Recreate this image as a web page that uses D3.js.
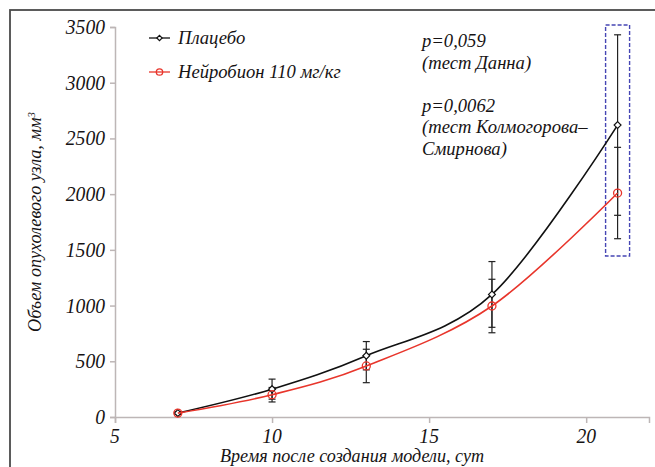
<!DOCTYPE html>
<html lang="ru">
<head>
<meta charset="utf-8">
<title>Объем опухолевого узла</title>
<script src="https://d3js.org/d3.v7.min.js"></script>
<style>
  body { margin: 0; background: #fff; }
  text { font-family: "Liberation Serif", serif; font-style: italic; fill: #161314; }
</style>
</head>
<body>
<script>
// data
var days = [7, 10, 13, 17, 21];
var placebo = [35, 250, 550, 1100, 2620];
var placeboErr = [10, 90, 127, 295, 810];
var neuro = [35, 200, 458, 996, 2010];
var neuroErr = [10, 65, 150, 240, 410];
var xTicks = [5, 10, 15, 20];
var yTicks = [0, 500, 1000, 1500, 2000, 2500, 3000, 3500];
var legendLabels = ["Плацебо", "Нейробион 110 мг/кг"];
var noteLines = ["p=0,059", "(тест Данна)", "", "p=0,0062", "(тест Колмогорова–", "Смирнова)"];

var w = 655, h = 467;
var sx = 0.98;

var x = d3.scaleLinear().domain([5, 22]).range([115, 649]);
var y = d3.scaleLinear().domain([0, 3500]).range([417, 27]);

var svg = d3.select("body").append("svg")
  .attr("width", w).attr("height", h);

// outer frame (runs off the page on right and bottom)
svg.append("rect")
  .attr("x", 10).attr("y", 10).attr("width", 720).attr("height", 520)
  .attr("fill", "none").attr("stroke", "#4a4a4a").attr("stroke-width", 1.8);

function label(g, tx, ty, str, anchor, rot, size) {
  return g.append("text")
    .attr("transform", "translate(" + tx + "," + ty + ")" + (rot ? " rotate(" + rot + ")" : "") + " scale(" + sx + ",1)")
    .attr("text-anchor", anchor || "start")
    .style("font-size", (size || 19) + "px")
    .text(str);
}

// axes
var axisColor = "#bdb6b6";
var xAxis = svg.append("g").attr("transform", "translate(0," + y(0) + ")")
  .call(d3.axisBottom(x).tickValues(xTicks).tickSize(6).tickFormat(""));
var yAxis = svg.append("g").attr("transform", "translate(" + x(5) + ",0)")
  .call(d3.axisLeft(y).tickValues(yTicks).tickSize(5).tickFormat(""));
[xAxis, yAxis].forEach(function(a) {
  a.selectAll("path, line").attr("stroke", axisColor).attr("stroke-width", 1.5);
});

xTicks.forEach(function(t) { label(svg, x(t), 443, t, "middle", 0, 20); });
yTicks.forEach(function(t) { label(svg, 105, y(t) + 7, t, "end", 0, 20); });

label(svg, 352, 462, "Время после создания модели, сут", "middle", 0, 18.5);
var yl = label(svg, 41, 222, "", "middle", -90, 18.5);
yl.append("tspan").text("Объем опухолевого узла, мм");
yl.append("tspan").attr("dy", -6).style("font-size", "11px").text("3");

// highlight box around last time point
svg.append("rect")
  .attr("x", x(21) - 12).attr("y", y(3518))
  .attr("width", 24).attr("height", y(1445) - y(3518))
  .attr("fill", "none").attr("stroke", "#4646b4").attr("stroke-width", 1.4)
  .attr("stroke-dasharray", "4,2");

var series = [
  { name: legendLabels[0], vals: placebo, err: placeboErr, color: "#111", marker: "diamond" },
  { name: legendLabels[1], vals: neuro, err: neuroErr, color: "#e8352b", marker: "circle" }
];

// error bars
series.forEach(function(s) {
  var g = svg.append("g");
  days.forEach(function(d, i) {
    var lo = y(s.vals[i] - s.err[i]), hi = y(s.vals[i] + s.err[i]), cx = x(d);
    g.append("line").attr("x1", cx).attr("x2", cx).attr("y1", lo).attr("y2", hi)
      .attr("stroke", "#222").attr("stroke-width", 1.2);
    [lo, hi].forEach(function(yy) {
      g.append("line").attr("x1", cx - 3.5).attr("x2", cx + 3.5).attr("y1", yy).attr("y2", yy)
        .attr("stroke", "#222").attr("stroke-width", 1.2);
    });
  });
});

var line = d3.line()
  .x(function(d) { return x(d[0]); })
  .y(function(d) { return y(d[1]); })
  .curve(d3.curveCatmullRom.alpha(0));

function drawMarker(g, s, cx, cy, small) {
  if (s.marker == "circle") {
    g.append("circle").attr("cx", cx).attr("cy", cy).attr("r", small ? 3.2 : 4)
      .attr("fill", "none").attr("stroke", s.color).attr("stroke-width", 1.3);
  } else {
    g.append("path").attr("d", d3.symbol().type(d3.symbolDiamond2).size(small ? 18 : 30)())
      .attr("transform", "translate(" + cx + "," + cy + ")")
      .attr("fill", "#fff").attr("stroke", s.color).attr("stroke-width", 1.2);
  }
}

series.forEach(function(s) {
  svg.append("path")
    .datum(days.map(function(d, i) { return [d, s.vals[i]]; }))
    .attr("d", line)
    .attr("fill", "none").attr("stroke", s.color).attr("stroke-width", 1.6);
  var g = svg.append("g");
  days.forEach(function(d, i) { drawMarker(g, s, x(d), y(s.vals[i])); });
});

// legend
series.forEach(function(s, i) {
  var ly = 38 + i * 34;
  svg.append("line").attr("x1", 149).attr("x2", 170).attr("y1", ly).attr("y2", ly)
    .attr("stroke", s.color).attr("stroke-width", 1.3);
  drawMarker(svg, s, 159.5, ly, true);
  label(svg, 178, ly + 6, s.name, "start");
});

// test annotation
noteLines.forEach(function(t, i) {
  if (t) label(svg, 422, 47 + i * 21.5, t, "start");
});
</script>
</body>
</html>
